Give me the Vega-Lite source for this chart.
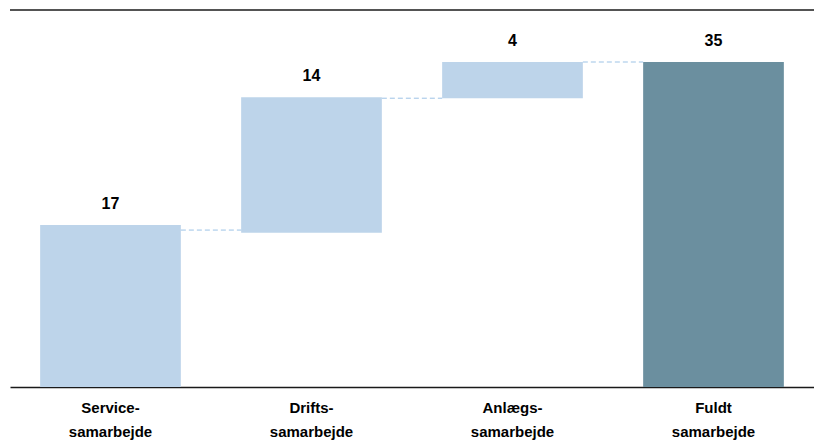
{
  "$schema": "https://vega.github.io/schema/vega-lite/v6.json",
  "width": 804,
  "height": 377,
  "autosize": {"type": "none"},
  "padding": {"left": 10, "top": 10, "right": 0, "bottom": 56},
  "background": "white",
  "config": {"view": {"stroke": null}},
  "datasets": {
    "bars": [
      {"cat": "Service-samarbejde", "start": 0, "end": 17.45, "value": 17, "type": "delta"},
      {"cat": "Drifts-samarbejde", "start": 16.6, "end": 31.2, "value": 14, "type": "delta"},
      {"cat": "Anlægs-samarbejde", "start": 31.1, "end": 35.0, "value": 4, "type": "delta"},
      {"cat": "Fuldt samarbejde", "start": 0, "end": 35.0, "value": 35, "type": "total"}
    ],
    "links": [
      {"from": "Service-samarbejde", "to": "Drifts-samarbejde", "level": 16.9},
      {"from": "Drifts-samarbejde", "to": "Anlægs-samarbejde", "level": 31.1},
      {"from": "Anlægs-samarbejde", "to": "Fuldt samarbejde", "level": 35.0}
    ],
    "frame": [{"top": 40.6}]
  },
  "layer": [
    {
      "data": {"name": "bars"},
      "mark": {"type": "bar"},
      "encoding": {
        "x": {
          "field": "cat",
          "type": "nominal",
          "sort": null,
          "scale": {
            "domain": ["Service-samarbejde", "Drifts-samarbejde", "Anlægs-samarbejde", "Fuldt samarbejde"],
            "paddingInner": 0.3,
            "paddingOuter": 0.15
          },
          "axis": {
            "title": null,
            "orient": "bottom",
            "labelAngle": 0,
            "ticks": false,
            "domain": true,
            "domainColor": "#1a1a1a",
            "domainWidth": 1.5,
            "labelFont": "Liberation Sans Narrow, Liberation Sans, Arial",
            "labelFontSize": 15,
            "labelFontWeight": "bold",
            "labelColor": "#000000",
            "labelPadding": 13,
            "labelLineHeight": 24,
            "labelExpr": "datum.label == 'Fuldt samarbejde' ? ['Fuldt', 'samarbejde'] : [replace(datum.label, '-samarbejde', '-'), 'samarbejde']"
          }
        },
        "y": {
          "field": "start",
          "type": "quantitative",
          "scale": {"domain": [0, 40.6], "nice": false, "zero": true},
          "axis": null
        },
        "y2": {"field": "end"},
        "color": {
          "field": "type",
          "type": "nominal",
          "scale": {"domain": ["delta", "total"], "range": ["#BDD4EA", "#6B8F9F"]},
          "legend": null
        }
      }
    },
    {
      "data": {"name": "links"},
      "mark": {"type": "rule", "color": "#9DC3E6", "strokeDash": [5, 3], "strokeWidth": 1},
      "encoding": {
        "x": {"field": "from", "type": "nominal", "bandPosition": 1},
        "x2": {"field": "to", "bandPosition": 0},
        "y": {"field": "level", "type": "quantitative"}
      }
    },
    {
      "data": {"name": "bars"},
      "mark": {"type": "text", "baseline": "alphabetic", "dy": -16, "font": "Liberation Sans, Arial", "fontSize": 16, "fontWeight": "bold", "color": "#000000"},
      "encoding": {
        "x": {"field": "cat", "type": "nominal", "sort": null},
        "y": {"field": "end", "type": "quantitative"},
        "text": {"field": "value", "type": "quantitative"}
      }
    },
    {
      "data": {"name": "frame"},
      "mark": {"type": "rule", "color": "#1a1a1a", "strokeWidth": 1.5},
      "encoding": {
        "y": {"field": "top", "type": "quantitative"}
      }
    }
  ]
}
